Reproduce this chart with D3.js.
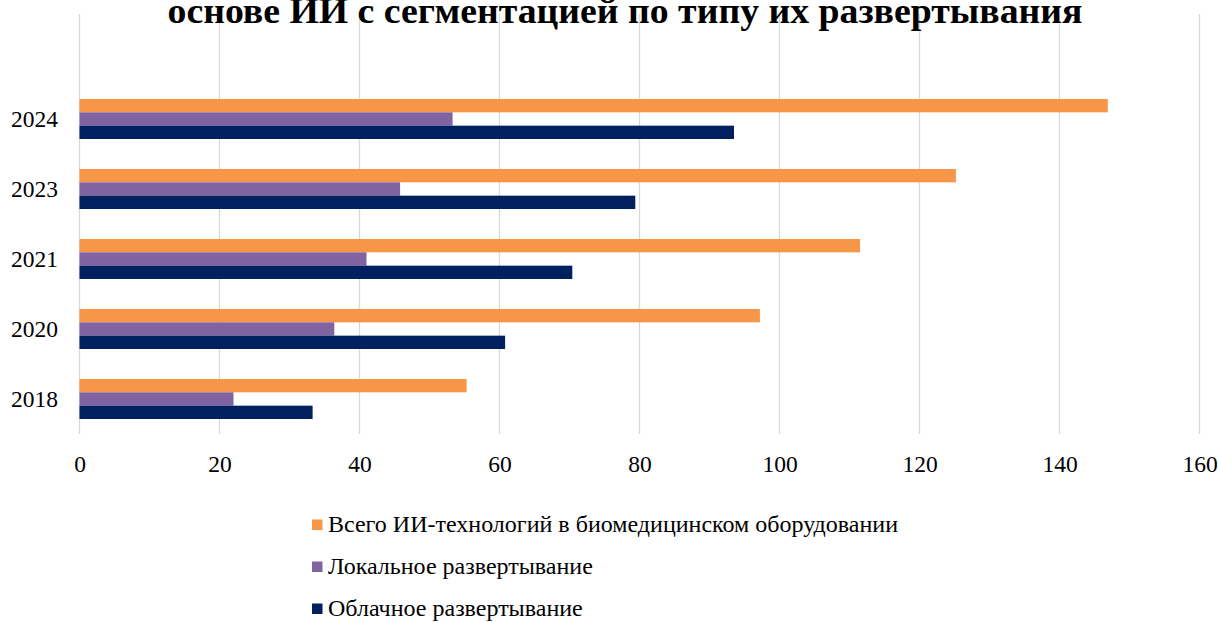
<!DOCTYPE html>
<html>
<head>
<meta charset="utf-8">
<script src="https://cdn.jsdelivr.net/npm/d3@7"></script>
<style>
  body { margin: 0; background: #fff; }
  svg { display: block; }
  text { font-family: "Liberation Serif", "Times New Roman", serif; }
</style>
</head>
<body>
<svg id="chart" width="1218" height="622"></svg>
<script>
var years = ["2018", "2020", "2021", "2023", "2024"];
var totalAI = [55.3, 97.2, 111.5, 125.2, 146.9];
var localDeploy = [22.0, 36.4, 41.0, 45.8, 53.3];
var cloudDeploy = [33.3, 60.8, 70.4, 79.4, 93.5];
var xTicks = [0, 20, 40, 60, 80, 100, 120, 140, 160];
var seriesNames = [
  "Всего ИИ-технологий в биомедицинском оборудовании",
  "Локальное развертывание",
  "Облачное развертывание"
];
var seriesColors = ["#f79646", "#8064a2", "#002060"];
var titleText = "основе ИИ с сегментацией по типу их развертывания";
var serif = "'Liberation Serif', 'Times New Roman', serif";

var svg = d3.select("#chart");
var plotLeft = 79.5, plotRight = 1199.5, plotTop = 84, plotBottom = 434, gridTop = 14;

var x = d3.scaleLinear().domain([0, 160]).range([plotLeft, plotRight]);
// 2024 sits on top, so reverse the order
var y = d3.scaleBand().domain(years.slice().reverse()).range([plotTop, plotBottom])
  .paddingInner(30 / 70).paddingOuter(15 / 70);
var inner = d3.scaleBand().domain([0, 1, 2]).range([0, y.bandwidth()]);

// Gridlines
svg.append("g").selectAll("line").data(xTicks).enter().append("line")
  .attr("x1", function(d) { return x(d); })
  .attr("x2", function(d) { return x(d); })
  .attr("y1", gridTop)
  .attr("y2", plotBottom)
  .attr("stroke", "#d9d9d9")
  .attr("stroke-width", 1.3);

// Bars
var seriesData = [totalAI, localDeploy, cloudDeploy];
var rows = [];
years.forEach(function(yr, i) {
  seriesData.forEach(function(s, j) {
    rows.push({ year: yr, s: j, v: s[i] });
  });
});
svg.append("g").selectAll("rect").data(rows).enter().append("rect")
  .attr("x", x(0))
  .attr("y", function(d) { return y(d.year) + inner(d.s); })
  .attr("width", function(d) { return x(d.v) - x(0); })
  .attr("height", inner.bandwidth())
  .attr("fill", function(d) { return seriesColors[d.s]; });

// X axis labels
var xAxis = d3.axisBottom(x).tickValues(xTicks).tickSize(0).tickPadding(0);
var gx = svg.append("g").attr("transform", "translate(0,472)").call(xAxis)
  .attr("font-family", serif).attr("font-size", 23.5);
gx.select(".domain").remove();
gx.selectAll("text").attr("fill", "#000").attr("dy", 0);

// Y axis labels
var yAxis = d3.axisLeft(y).tickSize(0).tickPadding(0);
var gy = svg.append("g").attr("transform", "translate(58,0)").call(yAxis)
  .attr("font-family", serif).attr("font-size", 23.5);
gy.select(".domain").remove();
gy.selectAll("text").attr("fill", "#000").attr("dy", "0.33em");

// Title (clipped at the top of the picture, as in the source)
svg.append("text")
  .attr("x", 625)
  .attr("y", 23)
  .attr("text-anchor", "middle")
  .attr("font-family", serif)
  .attr("font-size", 36)
  .attr("font-weight", "bold")
  .attr("textLength", 915)
  .attr("lengthAdjust", "spacingAndGlyphs")
  .text(titleText);

// Legend
var leg = svg.append("g").selectAll("g").data(seriesNames).enter().append("g")
  .attr("transform", function(d, i) { return "translate(312," + (524.5 + i * 42) + ")"; });
leg.append("rect").attr("x", 0).attr("y", -5).attr("width", 10.5).attr("height", 10.5)
  .attr("fill", function(d, i) { return seriesColors[i]; });
leg.append("text").attr("x", 16).attr("dy", "0.33em")
  .attr("font-family", serif).attr("font-size", 24).attr("fill", "#000")
  .text(function(d) { return d; });
</script>
</body>
</html>
